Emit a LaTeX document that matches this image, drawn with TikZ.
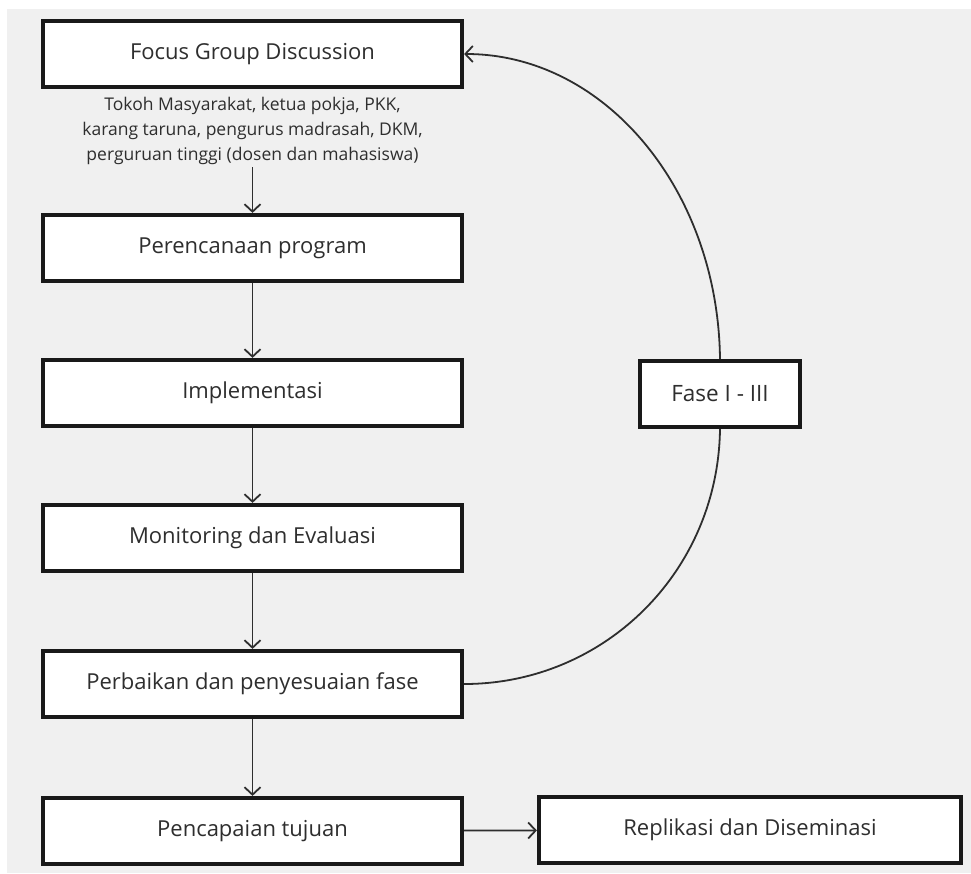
\documentclass[tikz,border=0pt]{standalone}
\usepackage{fontspec}
\setmainfont{Open Sans}
\usetikzlibrary{arrows.meta}
\definecolor{bg}{HTML}{F0F0F0}
\definecolor{txt}{HTML}{2E2E2E}
\tikzset{
  box/.style={draw=black!90, line width=4.2pt, fill=white, minimum width=419pt, minimum height=66pt, inner sep=0pt, text=txt, font=\fontsize{22}{26}\selectfont},
  conn/.style={draw=txt, line width=1.8pt, -{Straight Barb[length=7.5pt, width=16pt, line width=1.8pt]}},
  plain/.style={draw=txt, line width=1.8pt}
}
\begin{document}
\begin{tikzpicture}[x=1pt, y=-1pt]
\useasboundingbox (0,0) rectangle (971,873);
\fill[white] (0,0) rectangle (971,873);
\fill[bg] (7,9) rectangle (971,873);
\node[box] (fgd) at (252.5,54) {Focus Group Discussion};
\node[text=txt, font=\fontsize{17.5}{25}\selectfont, align=center, inner sep=0pt] (peserta) at (252.5,131) {Tokoh Masyarakat, ketua pokja, PKK,\\karang taruna, pengurus madrasah, DKM,\\perguruan tinggi (dosen dan mahasiswa)};
\node[box] (renc) at (252.5,248) {Perencanaan program};
\node[box] (impl) at (252.5,393) {Implementasi};
\node[box] (mon) at (252.5,538) {Monitoring dan Evaluasi};
\node[box] (perb) at (252.5,684) {Perbaikan dan penyesuaian fase};
\node[box] (penc) at (252.5,831) {Pencapaian tujuan};
\node[box, minimum width=422pt] (repl) at (750,830) {Replikasi dan Diseminasi};
\node[box, minimum width=160pt, font=\fontsize{22.5}{26}\selectfont] (fase) at (720,394) {Fase I - III};
\coordinate (pb) at (252.5,167);
\draw[conn] (pb) -- (renc.north);
\draw[conn] (renc) -- (impl);
\draw[conn] (impl) -- (mon);
\draw[conn] (mon) -- (perb);
\draw[conn] (perb) -- (penc);
\draw[conn] (penc) -- (repl);
\draw[plain] (perb.east) .. controls (604,684) and (718,572) .. (fase.south);
\draw[conn] (fase.north) .. controls (718,190) and (605,54) .. (fgd.east);
\end{tikzpicture}
\end{document}
